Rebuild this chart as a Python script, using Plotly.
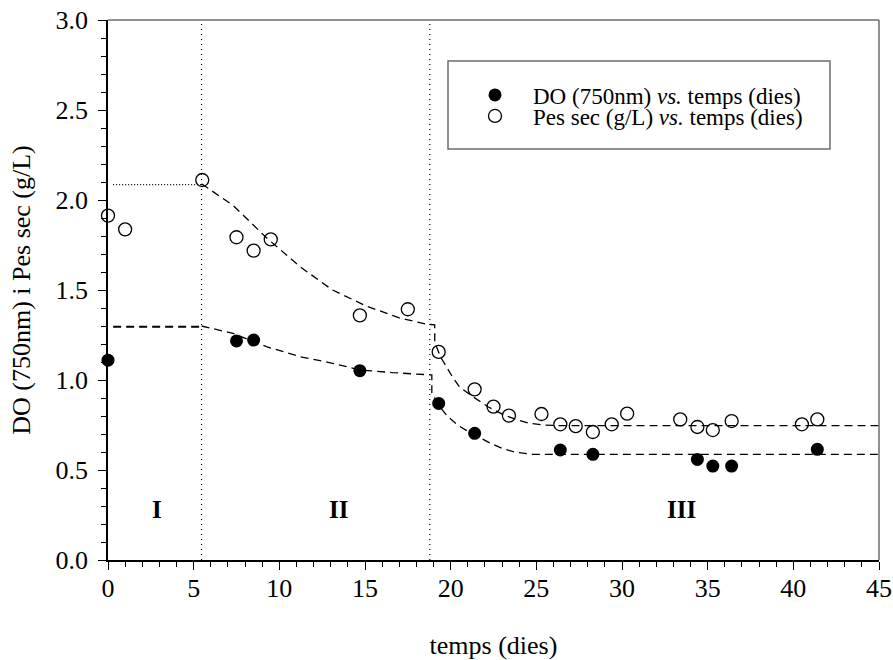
import plotly.graph_objects as go

# ---- measured data ----
days_do = [0, 7.5, 8.5, 14.7, 19.3, 21.4, 26.4, 28.3, 34.4, 35.3, 36.4, 41.4]
do_vals = [1.11, 1.217, 1.222, 1.052, 0.870, 0.704, 0.611, 0.587, 0.559, 0.522, 0.522, 0.615]

days_ps = [0, 1.0, 5.5, 7.5, 8.5, 9.5, 14.7, 17.5, 19.3, 21.4, 22.5, 23.4, 25.3,
           26.4, 27.3, 28.3, 29.4, 30.3, 33.4, 34.4, 35.3, 36.4, 40.5, 41.4]
ps_vals = [1.913, 1.837, 2.111, 1.793, 1.719, 1.781, 1.359, 1.393, 1.156, 0.948, 0.852, 0.802, 0.811,
           0.754, 0.744, 0.711, 0.754, 0.813, 0.781, 0.739, 0.722, 0.772, 0.754, 0.781]

# ---- fitted curves ----
ps_fit1_x = [0.3, 5.46]
ps_fit1_y = [2.085, 2.085]
ps_fit2_x = [5.46, 7.3, 9.25, 11.2, 13.1, 15.1, 17.0, 18.6, 19.07, 19.07, 19.4, 20.1, 20.5, 21.3,
             22.2, 23.1, 24.0, 24.6, 25.5, 26.5, 45]
ps_fit2_y = [2.09, 1.97, 1.79, 1.63, 1.50, 1.41, 1.345, 1.31, 1.306, 1.21, 1.13, 1.018, 0.963, 0.907,
             0.85, 0.806, 0.775, 0.759, 0.750, 0.746, 0.746]

do_fit1_x = [0.3, 5.46]
do_fit1_y = [1.296, 1.296]
do_fit2_x = [5.46, 7.3, 9.25, 11.2, 13.1, 14.7, 16.6, 18.6, 18.9, 18.9, 19.3, 19.8, 20.4, 21.0,
             21.6, 22.3, 23.0, 23.8, 24.8, 45]
do_fit2_y = [1.30, 1.259, 1.185, 1.13, 1.093, 1.056, 1.041, 1.028, 1.028, 0.93, 0.86, 0.80, 0.75, 0.715,
             0.685, 0.650, 0.620, 0.598, 0.587, 0.587]

phase_bounds = [5.46, 18.78]
phase_labels = ["I", "II", "III"]
phase_label_x = [2.86, 13.46, 33.5]
phase_label_y = [0.28, 0.28, 0.28]

x_title = "temps (dies)"
y_title = "DO (750nm) i Pes sec (g/L)"
name_do = "DO (750nm) <i>vs.</i> temps (dies)"
name_ps = "Pes sec (g/L) <i>vs.</i> temps (dies)"

FONT = "Liberation Serif"

fig = go.Figure()

fig.add_trace(go.Scatter(x=ps_fit1_x, y=ps_fit1_y, mode="lines", showlegend=False,
                         line=dict(color="black", width=1.3, dash="1px,2px")))
fig.add_trace(go.Scatter(x=ps_fit2_x, y=ps_fit2_y, mode="lines", showlegend=False,
                         line=dict(color="black", width=1.3, dash="8px,5px")))
fig.add_trace(go.Scatter(x=do_fit1_x, y=do_fit1_y, mode="lines", showlegend=False,
                         line=dict(color="black", width=2, dash="8px,5px")))
fig.add_trace(go.Scatter(x=do_fit2_x, y=do_fit2_y, mode="lines", showlegend=False,
                         line=dict(color="black", width=1.3, dash="8px,5px")))

fig.add_trace(go.Scatter(x=days_do, y=do_vals, mode="markers", name=name_do, legend="legend",
                         cliponaxis=False,
                         marker=dict(symbol="circle", size=13, color="black")))
fig.add_trace(go.Scatter(x=days_ps, y=ps_vals, mode="markers", name=name_ps, legend="legend2",
                         cliponaxis=False,
                         marker=dict(symbol="circle-open", size=13, color="black",
                                     line=dict(width=1.3, color="black"))))

shapes = []
for b in phase_bounds:
    shapes.append(dict(type="line", xref="x", yref="paper", x0=b, x1=b, y0=0, y1=1,
                       line=dict(color="black", width=1.2, dash="1px,4px")))
# top & right frame (gray)
shapes.append(dict(type="line", xref="paper", yref="paper", x0=0, x1=1, y0=1, y1=1,
                   line=dict(color="#6e6e6e", width=1.5)))
shapes.append(dict(type="line", xref="paper", yref="paper", x0=1, x1=1, y0=0, y1=1,
                   line=dict(color="#6e6e6e", width=1.5)))
# legend box
shapes.append(dict(type="rect", xref="paper", yref="paper",
                   x0=(448 - 108) / 771, x1=(830 - 108) / 771,
                   y0=(560 - 149) / 540, y1=(560 - 61) / 540,
                   line=dict(color="#6e6e6e", width=1.5), fillcolor="rgba(0,0,0,0)"))

annotations = []
for t, x, y in zip(phase_labels, phase_label_x, phase_label_y):
    annotations.append(dict(x=x, y=y, xref="x", yref="y", text="<b>%s</b>" % t, showarrow=False,
                            font=dict(family=FONT, size=25, color="black")))

leg_common = dict(font=dict(family=FONT, size=23, color="black"), bgcolor="rgba(0,0,0,0)",
                  borderwidth=0, xanchor="left", yanchor="middle", itemwidth=66)

fig.update_layout(
    width=893, height=660,
    margin=dict(l=108, r=14, t=20, b=100, autoexpand=False),
    paper_bgcolor="white", plot_bgcolor="white",
    font=dict(family=FONT, size=25, color="black"),
    shapes=shapes, annotations=annotations,
    legend=dict(x=(457 - 108) / 771, y=(560 - 95) / 540, **leg_common),
    legend2=dict(x=(457 - 108) / 771, y=(560 - 116) / 540, **leg_common),
    xaxis=dict(range=[0, 45], dtick=5, tick0=0, ticks="outside", ticklen=8, tickwidth=1.3,
               tickcolor="black", showline=True, linecolor="black", linewidth=1.5,
               showgrid=False, zeroline=False, automargin=False, ticklabelstandoff=-4,
               minor=dict(dtick=1, ticks="outside", ticklen=5, tickwidth=1.2, tickcolor="black",
                          showgrid=False),
               tickfont=dict(family=FONT, size=26),
               title=dict(text=x_title, font=dict(family=FONT, size=26), standoff=38)),
    yaxis=dict(range=[0, 3], dtick=0.5, tick0=0, tickformat=".1f", ticks="outside", ticklen=8,
               tickwidth=1.3, tickcolor="black", showline=True, linecolor="black", linewidth=1.5,
               showgrid=False, zeroline=False, automargin=False, ticklabelstandoff=5,
               minor=dict(dtick=0.1, ticks="outside", ticklen=5, tickwidth=1.2, tickcolor="black",
                          showgrid=False),
               tickfont=dict(family=FONT, size=26),
               title=dict(text=y_title, font=dict(family=FONT, size=26), standoff=17)),
)

fig.write_html("out.html")
